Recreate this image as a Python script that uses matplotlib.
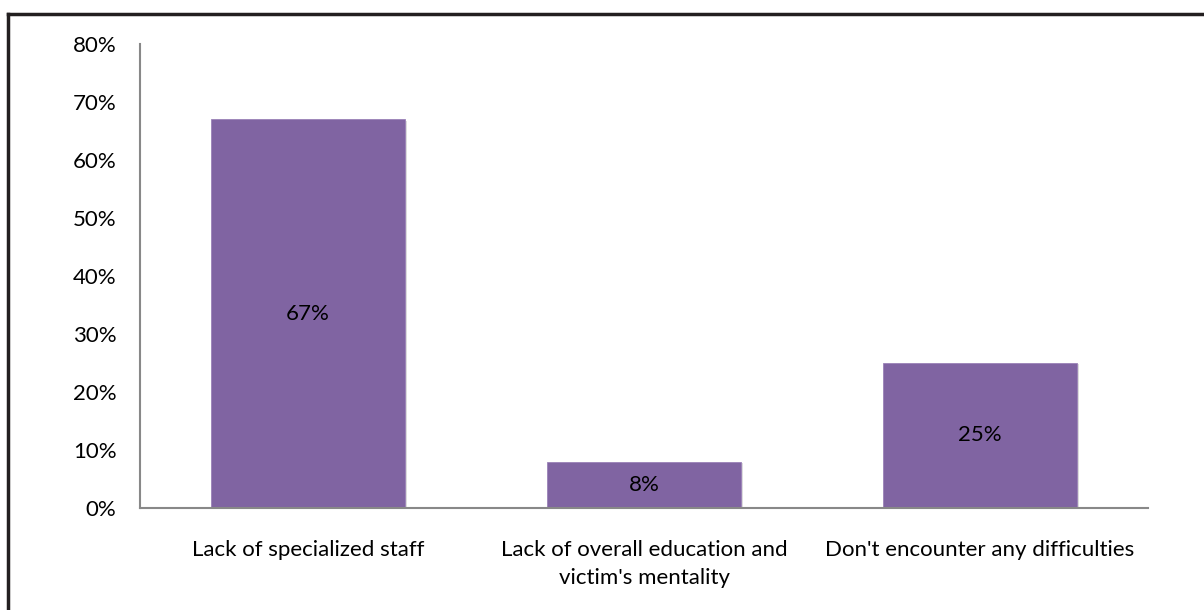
import matplotlib
matplotlib.use("Agg")
import matplotlib.pyplot as plt
import matplotlib.patheffects as pe
from matplotlib.ticker import PercentFormatter

plt.rcParams['font.family'] = ['Lato', 'DejaVu Sans']

categories = ["Lack of specialized staff",
              "Lack of overall education and\nvictim's mentality",
              "Don't encounter any difficulties"]
values = [0.67, 0.08, 0.25]
labels = ["67%", "8%", "25%"]
yticks = [0, 0.1, 0.2, 0.3, 0.4, 0.5, 0.6, 0.7, 0.8]

fig = plt.figure(figsize=(12.04, 6.10), dpi=100)
ax = fig.add_axes([0.1163, 0.1672, 0.8372, 0.7608])

# outer frame (only left and top visible in the reference)
fig.add_artist(plt.Line2D([0.0066, 0.0066], [0, 0.977], color='#231f20', lw=2.5))
fig.add_artist(plt.Line2D([0.0066, 1.0], [0.977, 0.977], color='#231f20', lw=2.5))

x = range(len(categories))
bars = ax.bar(x, values, width=0.575, color='#8064A2', edgecolor='#9a82b8', linewidth=0.6)
for b in bars:
    b.set_path_effects([pe.SimplePatchShadow(offset=(2, -1), shadow_rgbFace='#bbbbbb', alpha=0.5),
                        pe.Normal()])

for i, v in enumerate(values):
    ax.text(i, v / 2, labels[i], ha='center', va='center', fontsize=16, color='black')

ax.set_xlim(-0.5, 2.5)
ax.set_ylim(0, 0.8)
ax.set_yticks(yticks)
ax.yaxis.set_major_formatter(PercentFormatter(1.0, decimals=0))
ax.set_xticks(list(x))
ax.set_xticklabels(categories, fontsize=16, linespacing=1.5)
ax.tick_params(axis='y', labelsize=16, length=0, pad=17)
ax.tick_params(axis='x', length=0, pad=23)

for s in ['top', 'right']:
    ax.spines[s].set_visible(False)
for s in ['left', 'bottom']:
    ax.spines[s].set_color('#888888')
    ax.spines[s].set_linewidth(1.5)

fig.savefig("out.png", dpi=100)
